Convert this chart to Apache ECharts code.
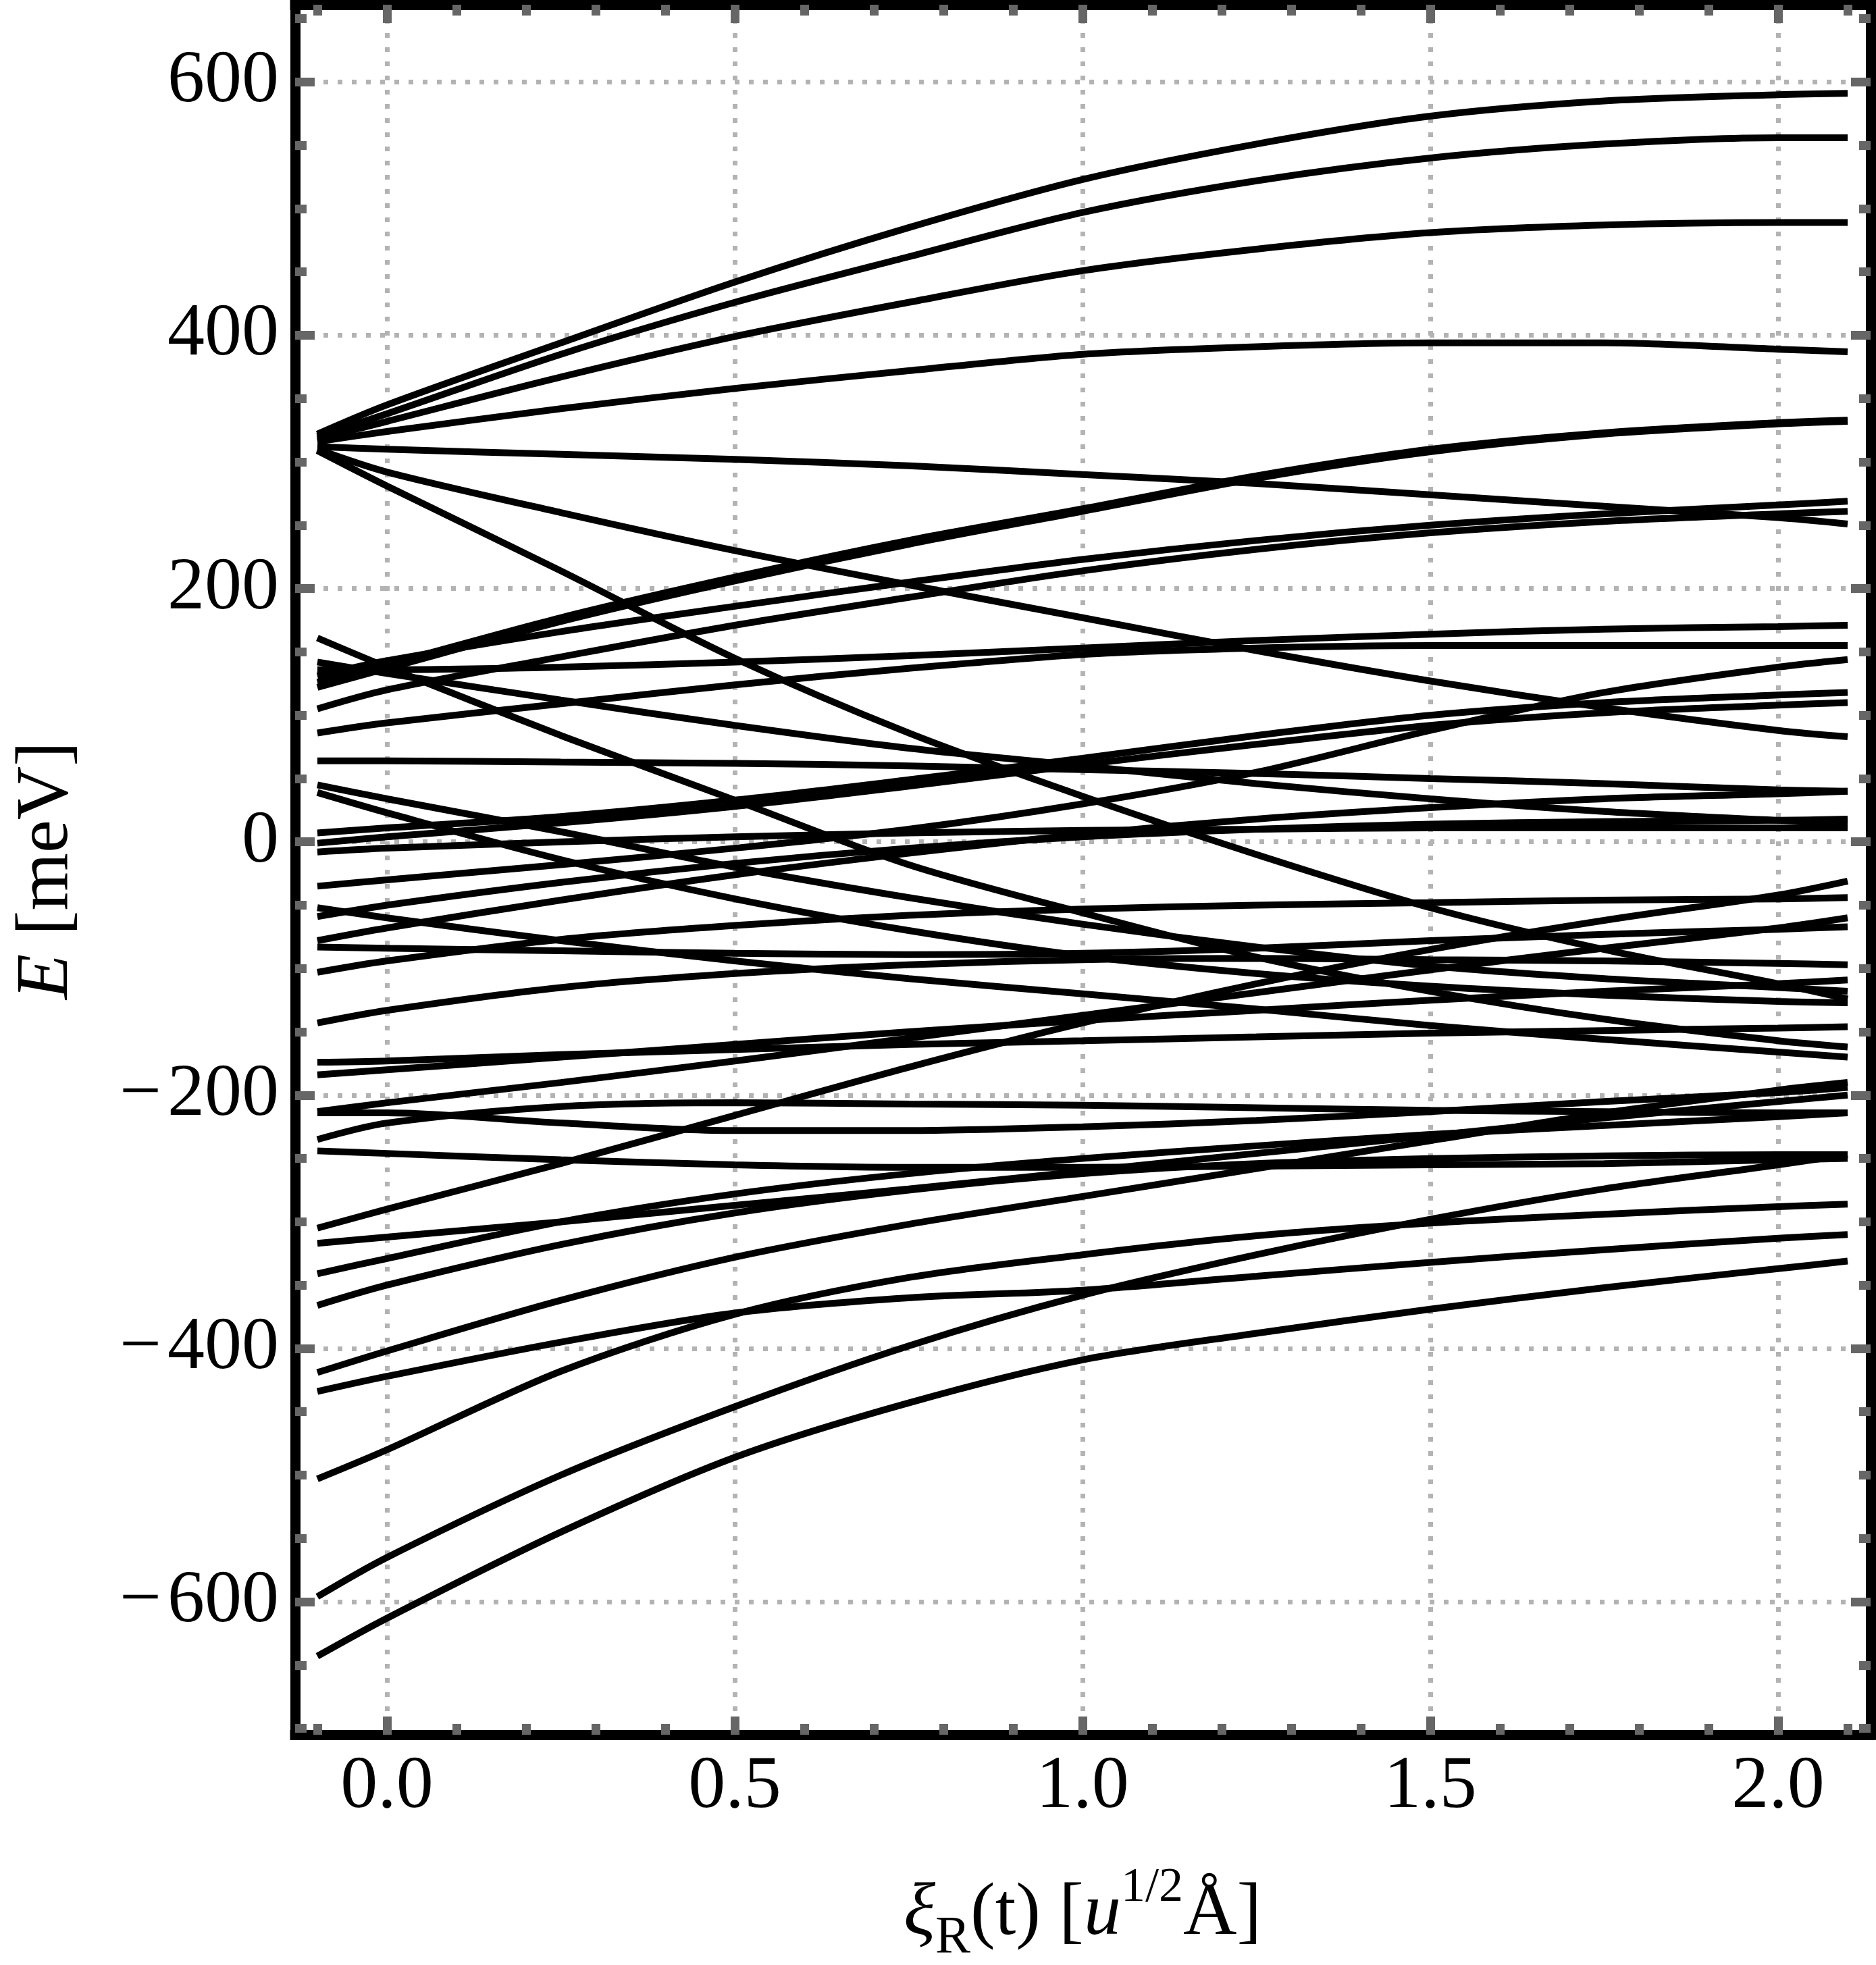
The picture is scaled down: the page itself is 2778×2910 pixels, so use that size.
<!DOCTYPE html>
<html>
<head>
<meta charset="utf-8">
<script src="https://cdn.jsdelivr.net/npm/echarts@6/dist/echarts.min.js"></script>
<style>html,body{margin:0;padding:0;background:#fff;}#c{width:2778px;height:2910px;}</style>
</head>
<body>
<div id="c"></div>
<script>
// ---- data (energy levels E [meV] sampled at xi positions) ----
const xiSamples = [-0.1, 0, 0.25, 0.5, 0.75, 1.0, 1.25, 1.5, 1.75, 2.0, 2.1];

const lvA1 = [322, 345, 394, 442, 485, 523, 551, 573, 585, 590, 591];
const lvA2 = [320, 338, 385, 426, 462, 497, 522, 540, 551, 556, 556];
const lvA3 = [318, 332, 367, 399, 426, 451, 468, 481, 487, 489, 489];
const lvA4 = [316, 324, 342, 358, 372, 385, 391, 394, 394, 389, 387];
const lvA5 = [312, 310, 306, 302, 297, 290, 283, 274, 265, 256, 251];
const lvA6 = [310, 292, 260, 230, 203, 177, 151, 127, 106, 88, 83];
const lvA7 = [309, 281, 214, 145, 86, 36, -10, -52, -85, -112, -124];
const lvB1 = [161, 138, 84, 33, -18, -56, -91, -118, -140, -157, -162];
const lvB2 = [142, 133, 112, 92, 74, 60, 46, 34, 24, 17, 15];
const lvC1 = [122, 137, 174, 206, 235, 261, 287, 308, 322, 330, 332];
const lvC2 = [126, 140, 177, 209, 238, 263, 289, 310, 323, 331, 333];
const lvD1 = [131, 143, 166, 186, 205, 223, 238, 250, 259, 266, 269];
const lvD2 = [105, 120, 146, 171, 193, 214, 231, 244, 253, 259, 261];
const lvE1 = [136, 136, 138, 142, 147, 153, 159, 164, 168, 170, 171];
const lvE2 = [86, 94, 109, 124, 137, 148, 153, 155, 155, 155, 155];
const lvG1 = [64, 64, 63, 62, 60, 57, 54, 50, 46, 41, 40];
const lvG2 = [7, 11, 20, 33, 49, 66, 84, 100, 110, 116, 118];
const lvG3 = [-1, 4, 15, 28, 44, 61, 77, 92, 102, 108, 110];
const lvG4 = [-8, -5, 0, 4, 7, 9, 10, 11, 11, 11, 11];
const lvH1 = [45, 34, 8, -20, -44, -65, -83, -98, -108, -115, -118];
const lvH2 = [39, 23, -14, -45, -70, -90, -104, -114, -121, -126, -127];
const lvI1 = [-35, -30, -18, -5, 10, 30, 55, 88, 118, 138, 144];
const lvI2 = [-52, -60, -78, -94, -108, -120, -132, -145, -156, -166, -170];
const lvI3 = [-59, -50, -32, -17, -5, 4, 10, 14, 16, 17, 18];
const lvI4 = [-78, -68, -46, -26, -9, 6, 18, 27, 34, 38, 40];
const lvI5 = [-83, -84, -86, -88, -89, -88, -84, -78, -73, -69, -67];
const lvI6 = [-103, -94, -77, -66, -58, -53, -50, -48, -46, -45, -44];
const lvL1 = [-143, -133, -115, -104, -97, -93, -92, -93, -94, -96, -97];
const lvL2 = [-174, -173, -168, -164, -160, -157, -154, -151, -149, -147, -146];
const lvL3 = [-184, -180, -170, -160, -150, -141, -133, -125, -118, -112, -109];
const lvL4 = [-213, -206, -190, -173, -155, -137, -119, -101, -84, -68, -60];
const lvL5 = [-214, -214, -222, -228, -228, -225, -220, -213, -205, -198, -194];
const lvL6 = [-235, -222, -209, -206, -207, -208, -210, -212, -213, -214, -214];
const lvL7 = [-244, -246, -251, -255, -257, -257, -256, -255, -254, -251, -250];
const lvL8 = [-305, -290, -254, -216, -178, -143, -112, -85, -62, -42, -31];
const lvL9 = [-317, -312, -300, -287, -274, -260, -246, -232, -218, -205, -200];
const lvL10 = [-341, -329, -300, -278, -262, -250, -240, -231, -224, -217, -214];
const lvL11 = [-366, -350, -318, -293, -275, -262, -254, -250, -248, -247, -247];
const lvL12 = [-419, -402, -362, -328, -302, -280, -258, -236, -214, -196, -190];
const lvL13 = [-434, -422, -395, -372, -360, -354, -343, -332, -322, -313, -310];
const lvL14 = [-503, -480, -418, -373, -344, -326, -311, -301, -294, -288, -286];
const lvL15 = [-596, -565, -500, -446, -398, -358, -326, -298, -274, -255, -247];
const lvL16 = [-643, -613, -545, -486, -443, -409, -388, -369, -352, -337, -331];

const xMajorTicks = [0, 0.5, 1.0, 1.5, 2.0];
const xMinorTicks = [-0.1, 0.1, 0.2, 0.3, 0.4, 0.6, 0.7, 0.8, 0.9, 1.1, 1.2, 1.3, 1.4, 1.6, 1.7, 1.8, 1.9, 2.1];
const yMajorTicks = [-600, -400, -200, 0, 200, 400, 600];
const yMinorTicks = [-700, -650, -550, -500, -450, -350, -300, -250, -150, -100, -50, 50, 100, 150, 250, 300, 350, 450, 500, 550, 650];

const levels = [lvA1, lvA2, lvA3, lvA4, lvA5, lvA6, lvA7, lvB1, lvB2, lvC1, lvC2, lvD1, lvD2,
  lvE1, lvE2, lvG1, lvG2, lvG3, lvG4, lvH1, lvH2, lvI1, lvI2, lvI3, lvI4, lvI5, lvI6,
  lvL1, lvL2, lvL3, lvL4, lvL5, lvL6, lvL7, lvL8, lvL9, lvL10, lvL11, lvL12, lvL13, lvL14, lvL15, lvL16];

// ---- chart ----
const FONT = 'Liberation Serif';
const xMin = -0.132, xMax = 2.133, yMin = -705, yMax = 661;
const frame = {show: true, onZero: false, lineStyle: {color: '#000', width: 15, cap: 'square'}};
const noLine = {show: false, onZero: false};
const tickStyle = {color: '#666', width: 13};
const gridLine = {show: true, lineStyle: {color: '#b3b3b3', width: 7, type: [7, 14]}};

function xAxisDef(pos, ticks, len, main) {
  return {
    type: 'value', position: pos, min: xMin, max: xMax,
    axisLine: main ? frame : noLine,
    axisTick: {show: true, inside: true, length: len, customValues: ticks, lineStyle: tickStyle},
    axisLabel: (pos === 'bottom' && main) ? {
      show: true, customValues: xMajorTicks, margin: 23, fontFamily: FONT, fontSize: 110, color: '#000',
      formatter: v => v.toFixed(1)
    } : {show: false},
    splitLine: (pos === 'bottom' && main) ? gridLine : {show: false},
    minorTick: {show: false}
  };
}
function yAxisDef(pos, ticks, len, main) {
  return {
    type: 'value', position: pos, min: yMin, max: yMax,
    axisLine: main ? frame : noLine,
    axisTick: {show: true, inside: true, length: len, customValues: ticks, lineStyle: tickStyle},
    axisLabel: (pos === 'left' && main) ? {
      show: true, customValues: yMajorTicks, margin: 24, fontFamily: FONT, fontSize: 110, color: '#000',
      formatter: v => (v < 0 ? '\u2212\u200A' + Math.abs(v) : String(v))
    } : {show: false},
    splitLine: (pos === 'left' && main) ? gridLine : {show: false},
    minorTick: {show: false}
  };
}

const series = levels.map((lv, k) => ({
  type: 'line',
  name: 'level' + (k + 1),
  xAxisIndex: 0, yAxisIndex: 0,
  data: xiSamples.map((x, i) => [x, lv[i]]),
  symbol: 'none', showSymbol: false,
  smooth: 0.3,
  lineStyle: {color: '#000', width: 10, cap: 'butt'},
  silent: true, z: 3
}));

const chart = echarts.init(document.getElementById('c'), null, {renderer: 'canvas'});
chart.setOption({
  animation: false,
  backgroundColor: '#fff',
  grid: {left: 437, right: 8, top: 7, bottom: 341, containLabel: false},
  xAxis: [
    xAxisDef('bottom', xMajorTicks, 27, true),
    xAxisDef('bottom', xMinorTicks, 16, false),
    xAxisDef('top', xMajorTicks, 27, true),
    xAxisDef('top', xMinorTicks, 16, false)
  ],
  yAxis: [
    yAxisDef('left', yMajorTicks, 29, true),
    yAxisDef('left', yMinorTicks, 17, false),
    yAxisDef('right', yMajorTicks, 29, true),
    yAxisDef('right', yMinorTicks, 17, false)
  ],
  series: series,
  graphic: [
    {
      type: 'text', x: 1603, y: 2835, z: 10,
      style: {
        text: '{i|\u03BE}{sub|R}{n|(t) [}{i|u}{sup|1/2}{n|\u00C5]}',
        align: 'center', verticalAlign: 'middle', textAlign: 'center', textVerticalAlign: 'middle',
        fill: '#000',
        rich: {
          n: {fontFamily: FONT, fontSize: 110, lineHeight: 150, fill: '#000'},
          i: {fontFamily: FONT, fontSize: 110, lineHeight: 150, fontStyle: 'italic', fill: '#000'},
          sub: {fontFamily: FONT, fontSize: 78, lineHeight: 110, verticalAlign: 'bottom', fill: '#000'},
          sup: {fontFamily: FONT, fontSize: 72, lineHeight: 72, verticalAlign: 'top', fill: '#000'}
        }
      }
    },
    {
      type: 'text', x: 70, y: 1289, rotation: Math.PI / 2, z: 10,
      style: {
        text: '{i|E}{n| [meV]}',
        align: 'center', verticalAlign: 'middle', textAlign: 'center', textVerticalAlign: 'middle',
        fill: '#000',
        rich: {
          n: {fontFamily: FONT, fontSize: 110, lineHeight: 120, fill: '#000'},
          i: {fontFamily: FONT, fontSize: 110, lineHeight: 120, fontStyle: 'italic', fill: '#000'}
        }
      }
    }
  ]
});
</script>
</body>
</html>
